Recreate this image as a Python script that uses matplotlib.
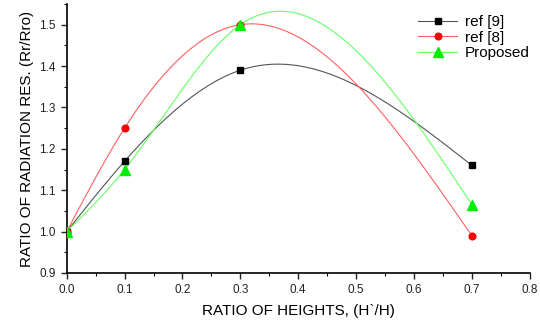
import numpy as np
import matplotlib.pyplot as plt
from matplotlib.ticker import MultipleLocator

plt.rcParams['font.family'] = ['Liberation Sans', 'DejaVu Sans']

# data
x_pts = [0.0, 0.1, 0.3, 0.7]
ref9 = [1.0, 1.17, 1.39, 1.16]
ref8 = [1.0, 1.25, 1.50, 0.99]
proposed = [1.0, 1.15, 1.50, 1.065]

series = [
    ('ref [9]', ref9, '#000000', '#555555', 's', 4.2),
    ('ref [8]', ref8, '#ff0000', '#ff6060', 'o', 4.8),
    ('Proposed', proposed, '#00ee00', '#66ff66', '^', 6.5),
]


def natural_spline(x, y, xs):
    # natural cubic spline, like Origin's "Spline" connection
    x = np.asarray(x, float)
    y = np.asarray(y, float)
    n = len(x)
    h = np.diff(x)
    A = np.zeros((n, n))
    b = np.zeros(n)
    A[0, 0] = A[-1, -1] = 1
    for i in range(1, n - 1):
        A[i, i - 1] = h[i - 1]
        A[i, i] = 2 * (h[i - 1] + h[i])
        A[i, i + 1] = h[i]
        b[i] = 6 * ((y[i + 1] - y[i]) / h[i] - (y[i] - y[i - 1]) / h[i - 1])
    m = np.linalg.solve(A, b)
    out = np.empty_like(xs)
    for k, xv in enumerate(xs):
        i = min(np.searchsorted(x, xv, side='right') - 1, n - 2)
        t0 = x[i + 1] - xv
        t1 = xv - x[i]
        out[k] = (m[i] * t0 ** 3 + m[i + 1] * t1 ** 3) / (6 * h[i]) \
            + (y[i] / h[i] - m[i] * h[i] / 6) * t0 \
            + (y[i + 1] / h[i] - m[i + 1] * h[i] / 6) * t1
    return out


fig = plt.figure(figsize=(5.4, 3.2), dpi=100)
ax = fig.add_axes([0.1235, 0.147, 0.8575, 0.8405])

xs = np.linspace(0, 0.7, 300)
for name, ys, mcol, lcol, mk, ms in series:
    ax.plot(xs, natural_spline(x_pts, ys, xs), color=lcol, lw=0.8, zorder=2)
    ax.plot(x_pts, ys, linestyle='none', marker=mk, ms=ms, color=mcol, zorder=3)
    ax.plot([], [], color=lcol, lw=0.8, marker=mk, ms=ms, mfc=mcol, mec=mcol, label=name)

ax.set_xlim(0, 0.8)
ax.set_ylim(0.9, 1.55)
ax.xaxis.set_major_locator(MultipleLocator(0.1))
ax.xaxis.set_minor_locator(MultipleLocator(0.05))
ax.yaxis.set_minor_locator(MultipleLocator(0.05))
ax.set_yticks(np.arange(0.9, 1.51, 0.1))
ax.tick_params(which='major', direction='out', length=4, width=1, labelsize=8.5, colors='#222222', pad=4)
ax.tick_params(which='minor', direction='out', length=2.5, width=0.8)
ax.spines['top'].set_visible(False)
ax.spines['right'].set_visible(False)
ax.spines['left'].set_linewidth(1.2)
ax.spines['bottom'].set_linewidth(1.2)

ax.set_xlabel('RATIO OF HEIGHTS, (H`/H)', fontsize=11, labelpad=6)
ax.set_ylabel('RATIO OF RADIATION RES. (Rr/Rro)', fontsize=11, labelpad=4)

ax.legend(loc='upper right', bbox_to_anchor=(1.03, 1.01), frameon=False, fontsize=11,
          handlelength=2.6, labelspacing=0.1, handletextpad=0.5)

fig.savefig('out.png', dpi=100)
